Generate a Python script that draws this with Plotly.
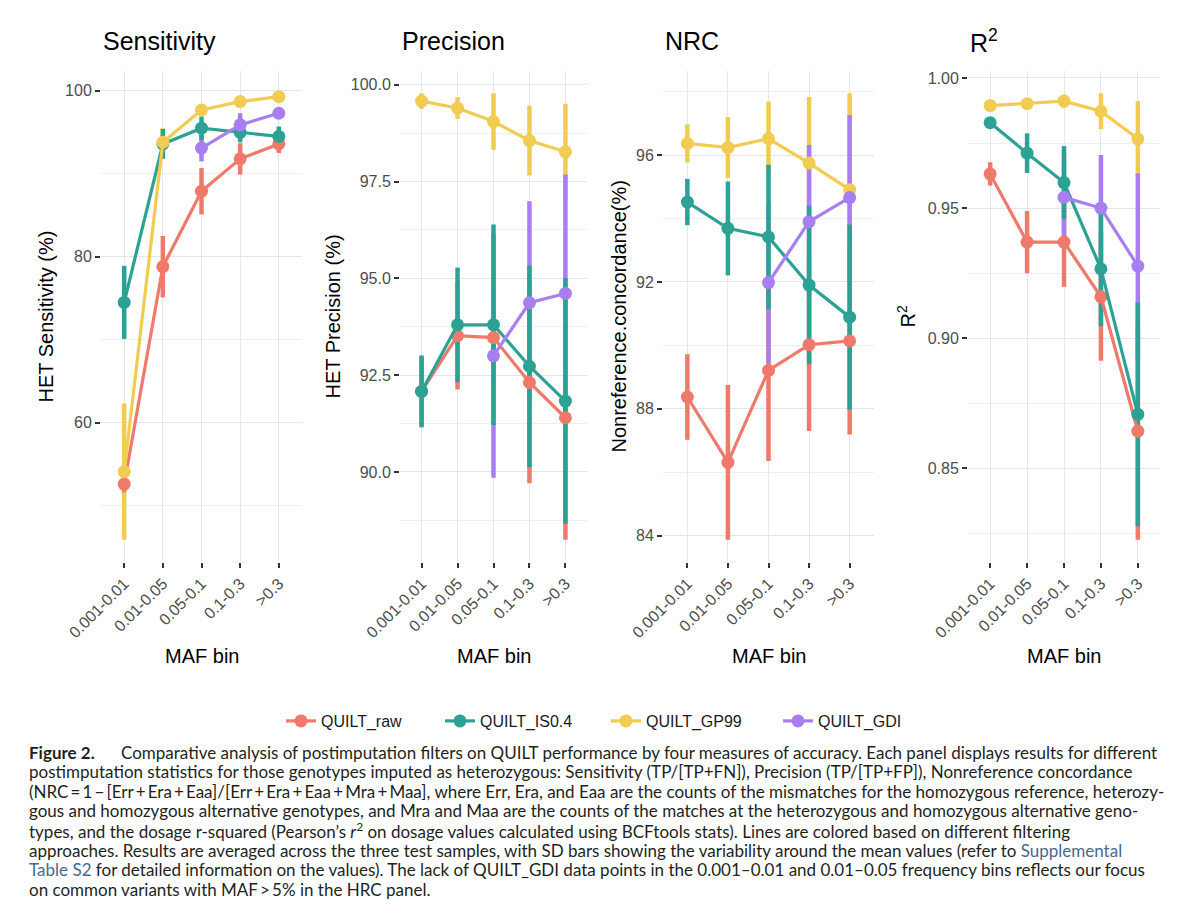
"""
QUILT postimputation filters - four accuracy measures by MAF bin
  Block 0: Data
  Block 1: Figure
  Block 2: Caption + export
"""

# region Block 0 - Data
import plotly.graph_objects as go

# the html page has an 8px body margin, so the figure is drawn 8px smaller
# and all positions below are given in window pixels, shifted by OFF
OFF = 8
W, H = 1200 - OFF, 919 - OFF

MAF_BINS = ["0.001-0.01", "0.01-0.05", "0.05-0.1", "0.1-0.3", ">0.3"]
METHODS = ["QUILT_raw", "QUILT_IS0.4", "QUILT_GP99", "QUILT_GDI"]

# Sensitivity (%), mean and SD per MAF bin
SENS_RAW = [52.6, 78.8, 87.9, 91.8, 93.6]
SENS_RAW_SD = [1.0, 3.7, 2.8, 1.9, 1.1]
SENS_IS = [74.5, 93.6, 95.5, 95.0, 94.5]
SENS_IS_SD = [4.4, 1.8, 1.4, 1.2, 1.2]
SENS_GP = [54.1, 93.8, 97.7, 98.7, 99.3]
SENS_GP_SD = [8.2, 1.7, 0.6, 0.4, 0.4]
SENS_GDI = [None, None, 93.1, 95.9, 97.3]
SENS_GDI_SD = [None, None, 1.6, 1.4, 0.6]

# Precision (%)
PREC_RAW = [92.08, 93.52, 93.47, 92.31, 91.40]
PREC_RAW_SD = [0.88, 1.39, 1.30, 2.60, 3.15]
PREC_IS = [92.08, 93.80, 93.80, 92.73, 91.83]
PREC_IS_SD = [0.93, 1.48, 2.59, 2.60, 3.17]
PREC_GP = [99.58, 99.40, 99.05, 98.56, 98.27]
PREC_GP_SD = [0.20, 0.28, 0.73, 0.90, 1.24]
PREC_GDI = [None, None, 93.00, 94.37, 94.61]
PREC_GDI_SD = [None, None, 3.15, 2.62, 3.07]

# Nonreference concordance (%)
NRC_RAW = [88.37, 86.31, 89.21, 90.02, 90.14]
NRC_RAW_SD = [1.35, 2.44, 2.86, 2.72, 2.95]
NRC_IS = [94.52, 93.69, 93.42, 91.90, 90.89]
NRC_IS_SD = [0.73, 1.48, 2.28, 2.50, 2.92]
NRC_GP = [96.37, 96.24, 96.52, 95.75, 94.91]
NRC_GP_SD = [0.60, 0.96, 1.17, 2.08, 3.04]
NRC_GDI = [None, None, 91.98, 93.90, 94.66]
NRC_GDI_SD = [None, None, 2.53, 2.42, 2.61]

# Dosage R^2
R2_RAW = [0.9631, 0.9369, 0.9369, 0.9159, 0.8642]
R2_RAW_SD = [0.0045, 0.0120, 0.0172, 0.0246, 0.0417]
R2_IS = [0.9828, 0.9711, 0.9598, 0.9266, 0.8707]
R2_IS_SD = [0.0015, 0.0076, 0.0140, 0.0220, 0.0430]
R2_GP = [0.9894, 0.9901, 0.9911, 0.9872, 0.9766]
R2_GP_SD = [0.0010, 0.0015, 0.0025, 0.0069, 0.0145]
R2_GDI = [None, None, 0.9541, 0.9500, 0.9277]
R2_GDI_SD = [None, None, 0.0167, 0.0204, 0.0356]
# endregion


# region Block 1 - Figure
COLORS = {
    "QUILT_raw": "#F0796B",
    "QUILT_IS0.4": "#2CA294",
    "QUILT_GP99": "#F1CC50",
    "QUILT_GDI": "#A97EF2",
}
# SD bars are stacked in this order (last on top)
BAR_ORDER = ["QUILT_GP99", "QUILT_raw", "QUILT_GDI", "QUILT_IS0.4"]

FONT = "'Liberation Sans', Arial, Helvetica, sans-serif"
TICK_GRAY = "#4D4D4D"

PANELS = [
    dict(title="Sensitivity", ytitle="HET Sensitivity (%)",
         means=[SENS_RAW, SENS_IS, SENS_GP, SENS_GDI],
         sds=[SENS_RAW_SD, SENS_IS_SD, SENS_GP_SD, SENS_GDI_SD],
         dtick=20, minor=10, fmt="d", x0=101, x1=302, ytx=45),
    dict(title="Precision", ytitle="HET Precision (%)",
         means=[PREC_RAW, PREC_IS, PREC_GP, PREC_GDI],
         sds=[PREC_RAW_SD, PREC_IS_SD, PREC_GP_SD, PREC_GDI_SD],
         dtick=2.5, minor=1.25, fmt=".1f", x0=400, x1=587, ytx=332),
    dict(title="NRC", ytitle="Nonreference.concordance(%)",
         means=[NRC_RAW, NRC_IS, NRC_GP, NRC_GDI],
         sds=[NRC_RAW_SD, NRC_IS_SD, NRC_GP_SD, NRC_GDI_SD],
         dtick=4, minor=2, fmt="d", x0=663, x1=874, ytx=618),
    dict(title="R<sup>2</sup>", ytitle="R<sup>2</sup>",
         means=[R2_RAW, R2_IS, R2_GP, R2_GDI],
         sds=[R2_RAW_SD, R2_IS_SD, R2_GP_SD, R2_GDI_SD],
         dtick=0.05, minor=0.025, fmt=".2f", x0=968, x1=1160, ytx=906),
]

PANEL_TOP, PANEL_BOTTOM = 71, 562


def fx(px):
    return (px - OFF) / W


def fy(py):
    return 1 - (py - OFF) / H


fig = go.Figure()
annotations = []

for i, p in enumerate(PANELS):
    sfx = "" if i == 0 else str(i + 1)
    xref, yref = "x" + sfx, "y" + sfx

    # SD bars first so all lines/points sit above them
    for m in BAR_ORDER:
        k = METHODS.index(m)
        fig.add_trace(go.Scatter(
            x=MAF_BINS, y=p["means"][k], xaxis=xref, yaxis=yref,
            mode="markers", marker=dict(size=1, opacity=0, color=COLORS[m]),
            error_y=dict(type="data", array=p["sds"][k], visible=True,
                         thickness=4.5, width=0, color=COLORS[m]),
            showlegend=False, hoverinfo="skip",
        ))

    for k, m in enumerate(METHODS):
        fig.add_trace(go.Scatter(
            x=MAF_BINS, y=p["means"][k], xaxis=xref, yaxis=yref,
            mode="lines+markers", name=m,
            line=dict(color=COLORS[m], width=3.2),
            marker=dict(color=COLORS[m], size=13),
            showlegend=(i == 0),
            legend="legend" if k == 0 else "legend" + str(k + 1),
        ))

    # y range: data extent (mean +/- SD) plus 5% each side, like ggplot
    lows = [v - s for mv, sv in zip(p["means"], p["sds"])
            for v, s in zip(mv, sv) if v is not None]
    highs = [v + s for mv, sv in zip(p["means"], p["sds"])
             for v, s in zip(mv, sv) if v is not None]
    lo, hi = min(lows), max(highs)
    pad = (hi - lo) * 0.05

    axis_common = dict(
        showline=False, zeroline=False, automargin=False,
        ticks="outside", ticklen=5, tickwidth=1.5, tickcolor="#333333",
        tickfont=dict(family=FONT, size=16, color=TICK_GRAY),
        gridcolor="#E6E6E6", gridwidth=1.1,
    )
    fig.update_layout(**{
        "xaxis" + sfx: dict(
            axis_common, domain=[fx(p["x0"]), fx(p["x1"])], anchor=yref,
            type="category", categoryorder="array", categoryarray=MAF_BINS,
            range=[-0.6, 4.6], tickangle=-45,
        ),
        "yaxis" + sfx: dict(
            axis_common, domain=[fy(PANEL_BOTTOM), fy(PANEL_TOP)], anchor=xref,
            range=[lo - pad, hi + pad], tick0=0, dtick=p["dtick"],
            tickformat=p["fmt"],
            minor=dict(dtick=p["minor"], tick0=0, showgrid=True,
                       gridcolor="#EFEFEF", gridwidth=0.8, ticks=""),
        ),
    })

    annotations += [
        dict(text=p["title"], x=fx(p["x0"]), y=fy(41), xanchor="left",
             yanchor="middle", font=dict(family=FONT, size=25, color="black")),
        dict(text=p["ytitle"], x=fx(p["ytx"]), y=fy((PANEL_TOP + PANEL_BOTTOM) / 2),
             textangle=-90, xanchor="center", yanchor="middle",
             font=dict(family=FONT, size=20, color="black")),
        dict(text="MAF bin", x=fx((p["x0"] + p["x1"]) / 2), y=fy(656),
             xanchor="center", yanchor="middle",
             font=dict(family=FONT, size=20, color="black")),
    ]

# one legend per entry, so each key sits where it does in the figure
LEGEND_MARKER_X = [303, 462, 628, 800]
legends = {}
for k, cx in enumerate(LEGEND_MARKER_X):
    key = "legend" if k == 0 else "legend" + str(k + 1)
    legends[key] = dict(
        x=fx(cx - 22), y=fy(721), xanchor="left", yanchor="middle",
        orientation="h", bgcolor="rgba(0,0,0,0)", borderwidth=0,
        font=dict(family=FONT, size=16, color="#1A1A1A"),
    )
# endregion


# region Block 2 - Caption + export
CAP_FONT = "Lato, 'Open Sans', sans-serif"
CAP_COLOR = "#231F20"
LINK = "<span style='color:#46698F'>{}</span>"
TS = "\u2009"  # thin space, as around the operators in the printed caption

CAPTION_LINES = [
    "Comparative analysis of postimputation filters on QUILT performance by four measures of accuracy. Each panel displays results for different",
    "postimputation statistics for those genotypes imputed as heterozygous: Sensitivity (TP/[TP+FN]), Precision (TP/[TP+FP]), Nonreference concordance",
    f"(NRC{TS}={TS}1{TS}−{TS}[Err{TS}+{TS}Era{TS}+{TS}Eaa]/[Err{TS}+{TS}Era{TS}+{TS}Eaa{TS}+{TS}Mra{TS}+{TS}Maa], where Err, Era, and Eaa are the counts of the mismatches for the homozygous reference, heterozy-",
    "gous and homozygous alternative genotypes, and Mra and Maa are the counts of the matches at the heterozygous and homozygous alternative geno-",
    "types, and the dosage r-squared (Pearson’s <i>r</i><sup>2</sup> on dosage values calculated using BCFtools stats). Lines are colored based on different filtering",
    "approaches. Results are averaged across the three test samples, with SD bars showing the variability around the mean values (refer to " + LINK.format("Supplemental"),
    LINK.format("Table S2") + " for detailed information on the values). The lack of QUILT_GDI data points in the 0.001–0.01 and 0.01–0.05 frequency bins reflects our focus",
    f"on common variants with MAF{TS}>{TS}5% in the HRC panel.",
]
CAP_Y0, CAP_STEP = 752, 19.6

annotations.append(dict(
    text="<b>Figure 2.</b>", x=fx(27), y=fy(CAP_Y0), xanchor="left", yanchor="middle",
    font=dict(family=CAP_FONT, size=17, color=CAP_COLOR),
))
for j, line in enumerate(CAPTION_LINES):
    annotations.append(dict(
        text=line, x=fx(119 if j == 0 else 27), y=fy(CAP_Y0 + j * CAP_STEP),
        xanchor="left", yanchor="middle",
        font=dict(family=CAP_FONT, size=17, color=CAP_COLOR),
    ))

for a in annotations:
    a.update(xref="paper", yref="paper", showarrow=False)

fig.update_layout(
    width=W, height=H,
    margin=dict(l=0, r=0, t=0, b=0),
    paper_bgcolor="white", plot_bgcolor="white",
    font=dict(family=FONT),
    annotations=annotations,
    **legends,
)

fig.write_html("out.html")
# endregion
